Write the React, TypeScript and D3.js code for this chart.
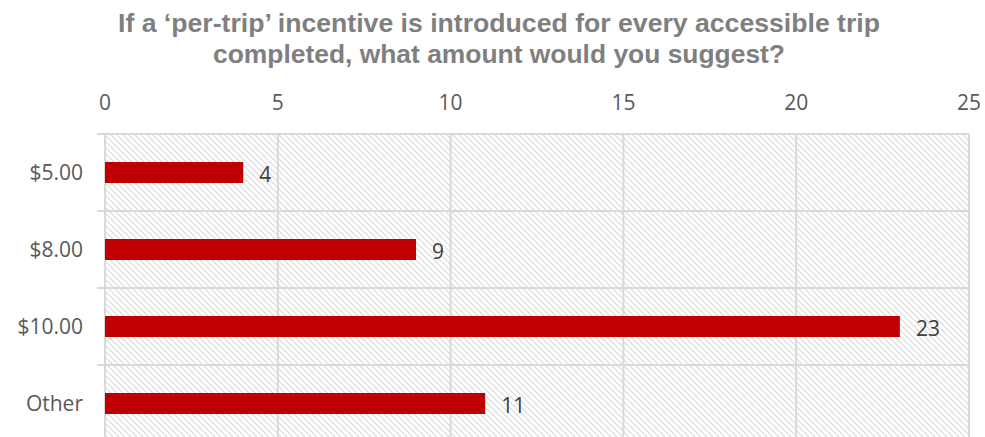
import React from "react";
import * as d3 from "d3";

const categories = ["$5.00", "$8.00", "$10.00", "Other"];
const values = [4, 9, 23, 11];
const ticks = [0, 5, 10, 15, 20, 25];
const titleLines = [
  "If a \u2018per-trip\u2019 incentive is introduced for every accessible trip",
  "completed, what amount would you suggest?",
];
const titleWidths = [762, 572];

const W = 985;
const H = 437;
const left = 105;
const right = 969;
const top = 134;
const bottom = 442;

export default function App() {
  const x = d3.scaleLinear().domain([0, 25]).range([left, right]);
  const y = d3.scaleBand<string>().domain(categories).range([top, bottom]).padding(0);
  const barH = 21;
  const bounds = categories.map((c) => y(c)!).concat([bottom]);
  const font = "'Open Sans', sans-serif";
  return (
    <svg width={W} height={H} style={{ position: "absolute", left: 0, top: 0, background: "#fff" }}>
      <defs>
        <pattern id="hatch" width={6} height={6} patternUnits="userSpaceOnUse">
          <rect width={6} height={6} fill="#fff" />
          <path d="M-1,-1 L7,7 M-1,5 L1,7 M5,-1 L7,1" stroke="#d9d9d9" strokeWidth={1.1} />
        </pattern>
      </defs>
      <rect x={left} y={top} width={right - left} height={bottom - top} fill="url(#hatch)" />
      {ticks.map((t) => (
        <line key={"g" + t} x1={x(t)} x2={x(t)} y1={top} y2={bottom} stroke="#d9d9d9" strokeWidth={2} />
      ))}
      {bounds.map((b, i) => (
        <line key={"h" + i} x1={97} x2={right} y1={b} y2={b} stroke="#d9d9d9" strokeWidth={2} />
      ))}
      {ticks.map((t) => (
        <text key={"t" + t} x={x(t)} y={110} textAnchor="middle" fontFamily={font} fontSize={21} fill="#595959">
          {t}
        </text>
      ))}
      {categories.map((c, i) => {
        const cy = y(c)! + y.bandwidth() / 2;
        return (
          <g key={c}>
            <rect x={x(0)} y={cy - barH / 2} width={x(values[i]) - x(0)} height={barH} fill="#c00000" />
            <text x={83} y={cy + 7.5} textAnchor="end" fontFamily={font} fontSize={21} fill="#595959">
              {c}
            </text>
            <text x={x(values[i]) + 16} y={cy + 9} fontFamily={font} fontSize={21} fill="#404040">
              {values[i]}
            </text>
          </g>
        );
      })}
      {titleLines.map((l, i) => (
        <text
          key={i}
          x={499}
          y={32 + i * 31}
          textAnchor="middle"
          fontFamily="'Liberation Sans', Arial, sans-serif"
          fontWeight="bold"
          fontSize={26}
          fill="#7f7f7f"
          textLength={titleWidths[i]}
          lengthAdjust="spacingAndGlyphs"
        >
          {l}
        </text>
      ))}
    </svg>
  );
}
